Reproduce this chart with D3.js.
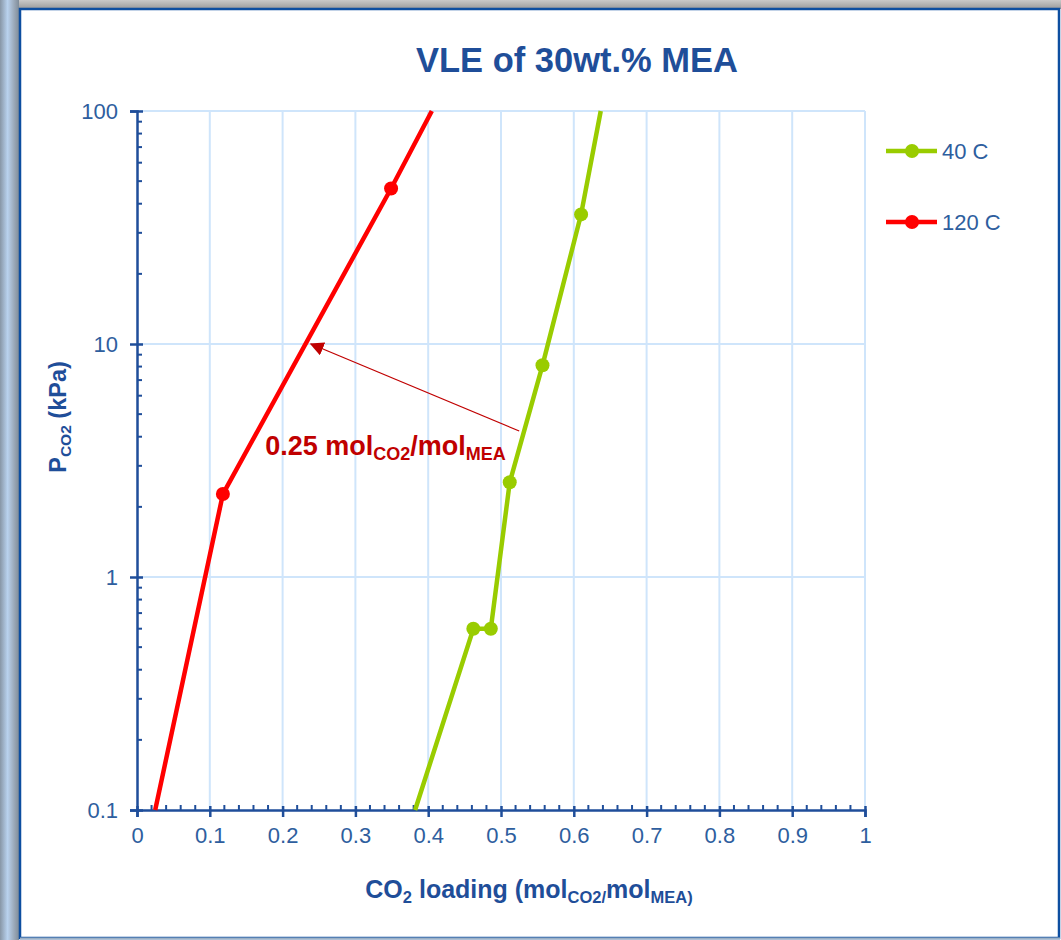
<!DOCTYPE html>
<html>
<head>
<meta charset="utf-8">
<script src="https://cdn.jsdelivr.net/npm/d3@7/dist/d3.min.js"></script>
<style>
  html, body { margin: 0; padding: 0; background: #fff; }
  svg { display: block; font-family: "Liberation Sans", Arial, sans-serif; }
</style>
</head>
<body>
<svg id="chart" width="1061" height="940"></svg>
<script>
// ---- Data ----
const seriesNames = ["40 C", "120 C"];
const seriesColors = ["#99CC00", "#FF0000"];
// line runs to the plot edges; markers only on measured points (first/last are edge points)
const loading40 = [0.382, 0.462, 0.486, 0.512, 0.557, 0.610, 0.637];
const pco2_40   = [0.1,   0.6,   0.6,   2.55,  8.1,   36,    100];
const loading120 = [0.025, 0.118, 0.349, 0.405];
const pco2_120   = [0.1,   2.27,  46.5,  100];
const xTicks = [0, 0.1, 0.2, 0.3, 0.4, 0.5, 0.6, 0.7, 0.8, 0.9, 1];
const xTickLabels = ["0", "0.1", "0.2", "0.3", "0.4", "0.5", "0.6", "0.7", "0.8", "0.9", "1"];
const yTicks = [0.1, 1, 10, 100];
const yTickLabels = ["0.1", "1", "10", "100"];
const annotationArrowFrom = [0.525, 4.23];
const annotationArrowTo = [0.239, 10];
const annotationTextAt = [0.176, 3.34];

// ---- Setup ----
const W = 1061, H = 940;
const margin = { left: 137, right: 196, top: 111, bottom: 130 };
const svg = d3.select("#chart");
const axisColor = "#1F4E9A";
const labelColor = "#1F4E99";
const tickColor = "#2E5E9E";
const gridColor = "#CFE5FB";

// frame
const defs = svg.append("defs");
const gl = defs.append("linearGradient").attr("id", "gl").attr("x1", 0).attr("x2", 1).attr("y1", 0).attr("y2", 0);
gl.append("stop").attr("offset", "0%").attr("stop-color", "#8796A6");
gl.append("stop").attr("offset", "40%").attr("stop-color", "#B9D2EE");
gl.append("stop").attr("offset", "75%").attr("stop-color", "#9AA8B8");
gl.append("stop").attr("offset", "100%").attr("stop-color", "#7F8C99");
const gt = defs.append("linearGradient").attr("id", "gt").attr("x1", 0).attr("x2", 0).attr("y1", 0).attr("y2", 1);
gt.append("stop").attr("offset", "0%").attr("stop-color", "#C9C9C9");
gt.append("stop").attr("offset", "100%").attr("stop-color", "#9A9A9A");
const mk = defs.append("marker").attr("id", "arrowhead").attr("viewBox", "0 0 10 10")
  .attr("refX", 9).attr("refY", 5).attr("markerWidth", 14).attr("markerHeight", 14)
  .attr("markerUnits", "userSpaceOnUse").attr("orient", "auto");
mk.append("path").attr("d", "M0,0 L10,5 L0,10 Z").attr("fill", "#C00000");

svg.append("rect").attr("x", 0).attr("y", 0).attr("width", W).attr("height", H).attr("fill", "#ffffff");
svg.append("rect").attr("x", 0).attr("y", 0).attr("width", W).attr("height", 9).attr("fill", "url(#gt)");
svg.append("rect").attr("x", 0).attr("y", 0).attr("width", 19).attr("height", H).attr("fill", "url(#gl)");
svg.append("rect").attr("x", 20).attr("y", 9).attr("width", 1039).attr("height", 929)
  .attr("fill", "#ffffff").attr("stroke", "#0D4EA0").attr("stroke-width", 2.5);
svg.append("line").attr("x1", 20).attr("x2", 1060).attr("y1", 938.5).attr("y2", 938.5)
  .attr("stroke", "#9BB0C6").attr("stroke-width", 2);

const x = d3.scaleLinear().domain([0, 1]).range([margin.left, W - margin.right]);
const y = d3.scaleLog().domain([0.1, 100]).range([H - margin.bottom, margin.top]);

// gridlines
const grid = svg.append("g");
grid.selectAll(".gx").data(xTicks.filter(d => d > 0)).join("line")
  .attr("x1", d => x(d)).attr("x2", d => x(d)).attr("y1", y(0.1)).attr("y2", y(100))
  .attr("stroke", gridColor).attr("stroke-width", 2);
grid.selectAll(".gy").data(yTicks.filter(d => d > 0.1)).join("line")
  .attr("x1", x(0)).attr("x2", x(1)).attr("y1", d => y(d)).attr("y2", d => y(d))
  .attr("stroke", gridColor).attr("stroke-width", 2);

// title
svg.append("text").attr("x", 577).attr("y", 72).attr("text-anchor", "middle")
  .attr("font-size", 34.5).attr("font-weight", "bold").attr("fill", labelColor)
  .text("VLE of 30wt.% MEA");

// axes
const xAxis = d3.axisBottom(x).tickValues(xTicks).tickFormat((d, i) => xTickLabels[i]).tickSize(7).tickPadding(10);
const gx = svg.append("g").attr("transform", `translate(0,${y(0.1)})`).call(xAxis);
gx.select(".domain").attr("stroke", axisColor).attr("stroke-width", 2.5);
gx.selectAll(".tick line").attr("stroke", axisColor).attr("stroke-width", 2.5).attr("y1", -4);
gx.selectAll(".tick text").attr("fill", tickColor).attr("font-size", 22).attr("font-family", "Liberation Sans, Arial, sans-serif");
// x minor ticks
const xMinor = d3.range(0, 1.0001, 0.02).filter(v => Math.abs(v * 10 - Math.round(v * 10)) > 1e-6);
gx.selectAll(".minor").data(xMinor).join("line").attr("class", "minor")
  .attr("x1", d => x(d)).attr("x2", d => x(d)).attr("y1", -5).attr("y2", 0)
  .attr("stroke", axisColor).attr("stroke-width", 2);

const yAxis = d3.axisLeft(y).tickValues(yTicks).tickFormat((d, i) => yTickLabels[i]).tickSize(7).tickPadding(12);
const gy = svg.append("g").attr("transform", `translate(${x(0)},0)`).call(yAxis);
gy.select(".domain").attr("stroke", axisColor).attr("stroke-width", 2.5);
gy.selectAll(".tick line").attr("stroke", axisColor).attr("stroke-width", 2.5).attr("x1", 6);
gy.selectAll(".tick text").attr("fill", tickColor).attr("font-size", 22).attr("font-family", "Liberation Sans, Arial, sans-serif");
const yMinor = y.ticks(30).filter(v => !yTicks.some(t => Math.abs(t - v) < 1e-9));
gy.selectAll(".minor").data(yMinor).join("line").attr("class", "minor")
  .attr("x1", 0).attr("x2", 5).attr("y1", d => y(d)).attr("y2", d => y(d))
  .attr("stroke", axisColor).attr("stroke-width", 2);

// axis titles
const xt = svg.append("text").attr("x", 529).attr("y", 898).attr("text-anchor", "middle")
  .attr("font-size", 25).attr("font-weight", "bold").attr("fill", labelColor);
xt.append("tspan").text("CO");
xt.append("tspan").attr("font-size", 16.5).attr("dy", 5).text("2");
xt.append("tspan").attr("dy", -5).text(" loading (mol");
xt.append("tspan").attr("font-size", 16.5).attr("dy", 5).text("CO2/");
xt.append("tspan").attr("dy", -5).text("mol");
xt.append("tspan").attr("font-size", 16.5).attr("dy", 5).text("MEA)");

const yt = svg.append("text").attr("transform", "translate(66,417) rotate(-90)").attr("text-anchor", "middle")
  .attr("font-size", 23.5).attr("font-weight", "bold").attr("fill", labelColor);
yt.append("tspan").text("P");
yt.append("tspan").attr("font-size", 15.5).attr("dy", 5).text("CO2");
yt.append("tspan").attr("dy", -5).text(" (kPa)");

// series
const seriesData = [
  loading40.map((v, i) => ({ x: v, y: pco2_40[i], edge: i === 0 || i === loading40.length - 1 })),
  loading120.map((v, i) => ({ x: v, y: pco2_120[i], edge: i === 0 || i === loading120.length - 1 }))
];
const line = d3.line().x(d => x(d.x)).y(d => y(d.y));
seriesData.forEach((data, si) => {
  svg.append("path").datum(data).attr("d", line).attr("fill", "none")
    .attr("stroke", seriesColors[si]).attr("stroke-width", 4.5);
  svg.selectAll(".pt" + si).data(data.filter(d => !d.edge)).join("circle")
    .attr("cx", d => x(d.x)).attr("cy", d => y(d.y)).attr("r", 7).attr("fill", seriesColors[si]);
});

// annotation
svg.append("line")
  .attr("x1", x(annotationArrowFrom[0])).attr("y1", y(annotationArrowFrom[1]))
  .attr("x2", x(annotationArrowTo[0])).attr("y2", y(annotationArrowTo[1]))
  .attr("stroke", "#C00000").attr("stroke-width", 1.2).attr("marker-end", "url(#arrowhead)");
const at = svg.append("text").attr("x", x(annotationTextAt[0])).attr("y", y(annotationTextAt[1]))
  .attr("font-size", 27).attr("font-weight", "bold").attr("fill", "#C00000");
at.append("tspan").text("0.25 mol");
at.append("tspan").attr("font-size", 18).attr("dy", 5).text("CO2");
at.append("tspan").attr("dy", -5).text("/mol");
at.append("tspan").attr("font-size", 18).attr("dy", 5).text("MEA");

// legend
const legendY = [151, 222];
seriesNames.forEach((name, i) => {
  const g = svg.append("g");
  g.append("line").attr("x1", 886).attr("x2", 937).attr("y1", legendY[i]).attr("y2", legendY[i])
    .attr("stroke", seriesColors[i]).attr("stroke-width", 4.5);
  g.append("circle").attr("cx", 912).attr("cy", legendY[i]).attr("r", 7).attr("fill", seriesColors[i]);
  g.append("text").attr("x", 942).attr("y", legendY[i] + 8).attr("font-size", 22)
    .attr("fill", tickColor).text(name);
});
</script>
</body>
</html>
